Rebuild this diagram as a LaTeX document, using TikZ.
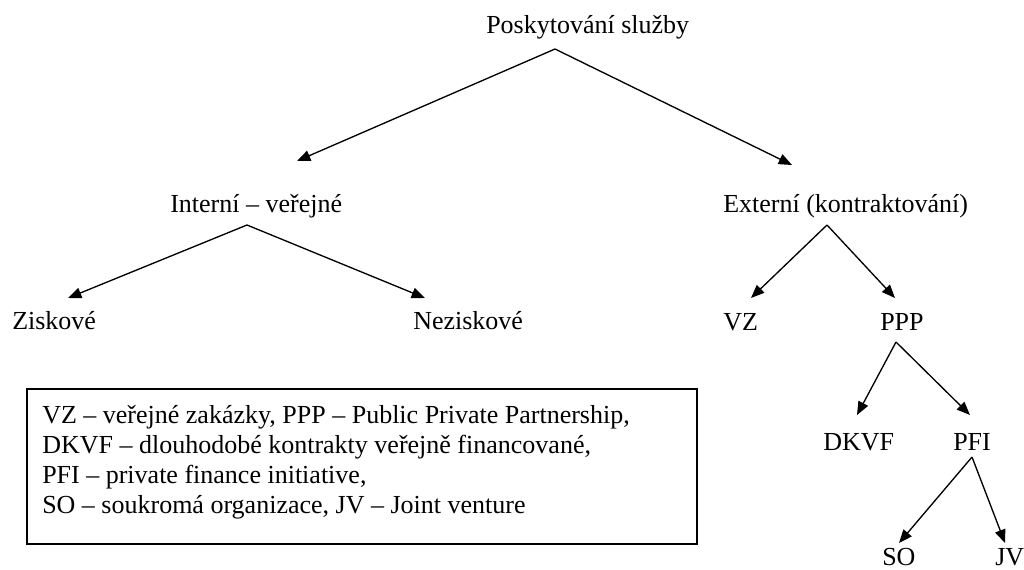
\documentclass[tikz,border=0pt]{standalone}
\usepackage{fontspec}
\setmainfont{Liberation Serif}
\usetikzlibrary{arrows.meta}
\begin{document}
\begin{tikzpicture}[x=0.75pt, y=-0.75pt,
    lbl/.style={anchor=base west, inner sep=0pt, font=\fontsize{19.5}{22.5}\selectfont},
    arr/.style={-{Triangle[length=10pt, width=8pt]}, line width=1pt}]
    \useasboundingbox (0,0) rectangle (1024,569);
    % tree labels
    \node[lbl] (posk) at (486,33) {Poskytování služby};
    \node[lbl] (int) at (170,212) {Interní -- veřejné};
    \node[lbl] (ext) at (723,212) {Externí (kontraktování)};
    \node[lbl] (zisk) at (12,329) {Ziskové};
    \node[lbl] (nezisk) at (413,329) {Neziskové};
    \node[lbl] (vz) at (723,330) {VZ};
    \node[lbl] (ppp) at (880,330) {PPP};
    \node[lbl] (dkvf) at (823,450) {DKVF};
    \node[lbl] (pfi) at (953,450) {PFI};
    \node[lbl] (so) at (882,565) {SO};
    \node[lbl] (jv) at (995,565) {JV};
    % forks and arrow tips
    \coordinate (fposk) at (555,49);
    \coordinate (fint) at (247,225);
    \coordinate (fext) at (827,225);
    \coordinate (fppp) at (896,342);
    \coordinate (fpfi) at (972,457);
    \coordinate (tint) at (297,161);
    \coordinate (text) at (792,165);
    \coordinate (tzisk) at (68,298);
    \coordinate (tnezisk) at (425,298);
    \coordinate (tvz) at (751,298);
    \coordinate (tppp) at (895,298);
    \coordinate (tdkvf) at (857,415);
    \coordinate (tpfi) at (970,415);
    \coordinate (tso) at (899,543);
    \coordinate (tjv) at (1005,543);
    \draw[arr] (fposk) -- (tint);
    \draw[arr] (fposk) -- (text);
    \draw[arr] (fint) -- (tzisk);
    \draw[arr] (fint) -- (tnezisk);
    \draw[arr] (fext) -- (tvz);
    \draw[arr] (fext) -- (tppp);
    \draw[arr] (fppp) -- (tdkvf);
    \draw[arr] (fppp) -- (tpfi);
    \draw[arr] (fpfi) -- (tso);
    \draw[arr] (fpfi) -- (tjv);
    % legend
    \draw[line width=1.1pt] (27,389) rectangle (697,544);
    \node[lbl, align=left] (legend) at (42,513) {VZ -- veřejné zakázky, PPP -- Public Private Partnership,\\
        DKVF -- dlouhodobé kontrakty veřejně financované,\\
        PFI -- private finance initiative,\\
        SO -- soukromá organizace, JV -- Joint venture};
\end{tikzpicture}
\end{document}
